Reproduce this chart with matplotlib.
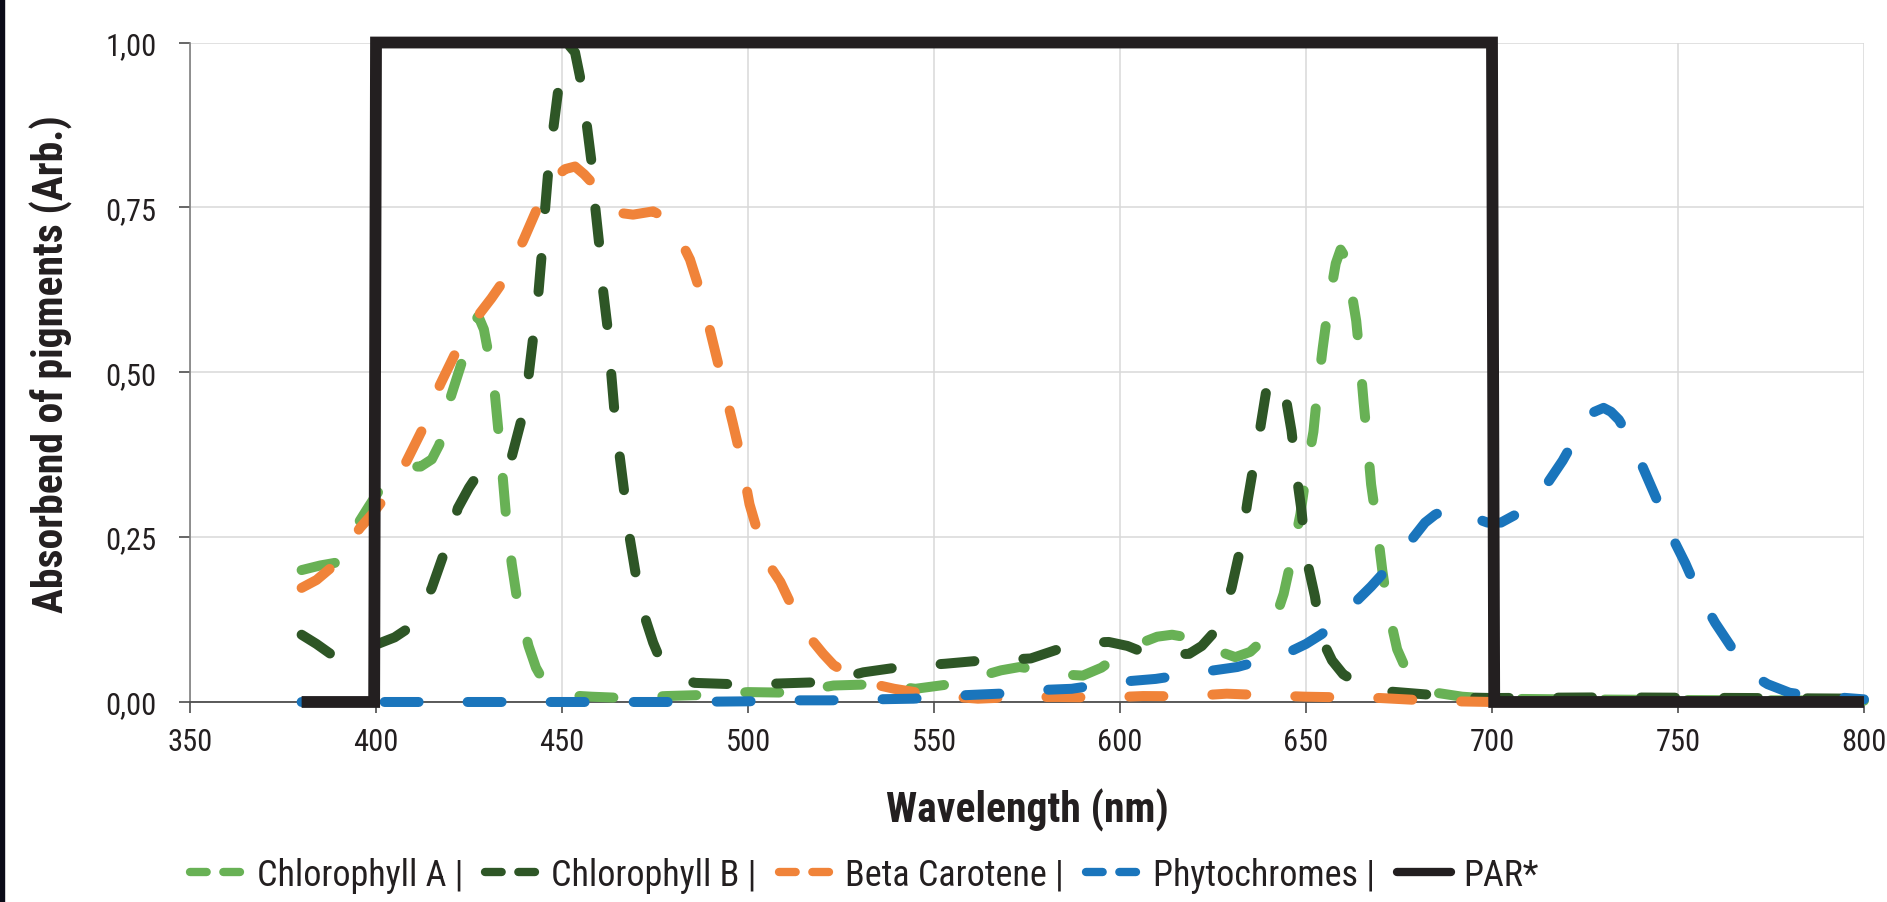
import matplotlib
matplotlib.use("Agg")
import matplotlib.pyplot as plt
from matplotlib.lines import Line2D
from matplotlib.patches import Rectangle
from matplotlib.ticker import FuncFormatter, MultipleLocator

plt.rcParams['font.family'] = ['Roboto Condensed', 'DejaVu Sans']

# --- data (wavelength in nm, absorbance in arb. units) ---
chla_nm = [380, 385, 389, 392, 395, 398, 401, 405, 409, 412, 415, 417, 420, 423, 426,
           427.5, 429, 430.5, 432, 433, 434, 435, 436.5, 438, 441, 443, 445, 448, 452,
           458, 467, 478, 490, 500, 512, 523, 535, 545, 557, 563, 568, 573, 578, 584,
           590, 595, 599, 605, 610, 614, 618, 621, 626, 631, 635, 639, 642, 644, 646,
           648.5, 650, 652, 653, 654.5, 656, 658, 659.3, 660.5, 662, 663.5, 664.5, 665.5,
           666.5, 667.5, 669, 670.5, 672, 674.5, 677, 680, 685, 692, 700, 720, 750, 800]
chla_val = [0.200, 0.207, 0.211, 0.235, 0.269, 0.296, 0.322, 0.345, 0.357, 0.357, 0.368,
            0.390, 0.461, 0.514, 0.572, 0.585, 0.565, 0.520, 0.464, 0.405, 0.345, 0.279,
            0.209, 0.153, 0.085, 0.052, 0.032, 0.017, 0.010, 0.008, 0.006, 0.009, 0.011,
            0.015, 0.014, 0.025, 0.027, 0.020, 0.029, 0.040, 0.048, 0.053, 0.049, 0.042,
            0.040, 0.052, 0.068, 0.088, 0.099, 0.102, 0.098, 0.091, 0.078, 0.068, 0.076,
            0.097, 0.130, 0.164, 0.215, 0.285, 0.345, 0.410, 0.467, 0.537, 0.600, 0.665,
            0.686, 0.675, 0.630, 0.578, 0.520, 0.454, 0.395, 0.330, 0.270, 0.200, 0.143,
            0.080, 0.048, 0.027, 0.014, 0.008, 0.005, 0.004, 0.003, 0.002]

chlb_nm = [380, 384, 388, 392, 396, 400, 405, 409, 412, 415, 418.5, 420.5, 422, 425, 427,
           430, 433, 436.4, 439, 441, 442.5, 443.6, 444.5, 445.4, 446.3, 447.7, 449, 450.5,
           452, 453.5, 454.8, 456.6, 457.9, 458.9, 460, 461, 462.3, 463.2, 464.1, 465.5,
           466.8, 468.2, 469.9, 472.6, 474.5, 476.2, 480, 485.6, 496, 508, 519, 525, 531,
           541, 553, 563, 569, 576, 585, 591, 597, 602, 606, 612, 618.6, 622, 626, 628,
           630, 632.4, 634.3, 635.9, 637, 638, 639.6, 641.5, 643, 644.4, 646.1, 647.5,
           648.8, 650, 652.4, 654.1, 657, 660, 665, 670, 681, 692, 700, 730, 770, 800]
chlb_val = [0.102, 0.088, 0.072, 0.066, 0.072, 0.087, 0.098, 0.113, 0.138, 0.173, 0.229,
            0.265, 0.294, 0.325, 0.342, 0.350, 0.352, 0.370, 0.426, 0.494, 0.565, 0.616,
            0.676, 0.744, 0.805, 0.871, 0.929, 0.975, 0.995, 0.985, 0.949, 0.878, 0.820,
            0.752, 0.694, 0.626, 0.565, 0.500, 0.440, 0.373, 0.315, 0.249, 0.191, 0.123,
            0.090, 0.067, 0.042, 0.029, 0.027, 0.028, 0.030, 0.036, 0.045, 0.053, 0.058,
            0.063, 0.064, 0.066, 0.083, 0.090, 0.091, 0.085, 0.076, 0.072, 0.073, 0.085,
            0.110, 0.140, 0.173, 0.234, 0.305, 0.358, 0.390, 0.426, 0.482, 0.492, 0.480,
            0.467, 0.411, 0.343, 0.290, 0.221, 0.160, 0.097, 0.063, 0.042, 0.025, 0.017,
            0.012, 0.007, 0.006, 0.007, 0.006, 0.005]

beta_nm = [380, 384, 388, 392, 395.7, 399, 402, 405, 408.2, 412.7, 417.2, 421.6, 425, 428,
           431, 434.2, 437, 439.6, 443.6, 447, 450.8, 453.5, 456, 459.3, 462, 465, 469.1,
           474.5, 478.5, 481, 484.4, 487.5, 490.5, 492.8, 495.9, 498.1, 500.4, 503, 506,
           508.7, 513, 517, 520.2, 523, 528.3, 533, 539.3, 550.3, 561.8, 572.8, 583.7,
           595.2, 606.2, 617.7, 628.7, 640.2, 650, 660, 670, 680, 690, 700, 800]
beta_val = [0.173, 0.185, 0.204, 0.235, 0.264, 0.285, 0.307, 0.335, 0.365, 0.416, 0.481,
            0.532, 0.565, 0.590, 0.612, 0.638, 0.670, 0.700, 0.752, 0.790, 0.808, 0.812,
            0.800, 0.780, 0.755, 0.742, 0.739, 0.744, 0.732, 0.710, 0.671, 0.616, 0.547,
            0.494, 0.423, 0.370, 0.300, 0.250, 0.205, 0.182, 0.131, 0.095, 0.073, 0.056,
            0.038, 0.028, 0.020, 0.010, 0.005, 0.0076, 0.0076, 0.0066, 0.009, 0.0086,
            0.0126, 0.010, 0.008, 0.007, 0.006, 0.003, 0.001, 0.0, 0.0]

phyto_nm = [380, 400, 450, 480, 500, 511, 522, 534, 544.5, 557, 567.5, 576.6, 587, 599,
            609.6, 621.5, 631.5, 636, 645.4, 650, 654.1, 658, 661.2, 664.1, 667.5, 671.2,
            675, 678.8, 682, 684.7, 688.2, 692.9, 698.8, 702.4, 706, 709.4, 712, 715.3,
            719, 722.4, 725, 727.5, 730, 732, 734.1, 737, 740, 744.7, 748.8, 752, 754.1,
            757, 760, 765.9, 770.6, 774.1, 780, 783, 788, 794, 800]
phyto_val = [0.0, 0.0, 0.0, 0.0, 0.001, 0.0025, 0.0025, 0.004, 0.005, 0.010, 0.0126,
             0.0177, 0.020, 0.030, 0.035, 0.045, 0.053, 0.060, 0.0755, 0.088, 0.1025,
             0.120, 0.138, 0.156, 0.175, 0.198, 0.222, 0.249, 0.272, 0.284, 0.294, 0.284,
             0.272, 0.272, 0.283, 0.297, 0.313, 0.335, 0.366, 0.400, 0.425, 0.440, 0.446,
             0.440, 0.428, 0.400, 0.363, 0.302, 0.246, 0.210, 0.183, 0.150, 0.120, 0.070,
             0.039, 0.027, 0.014, 0.0116, 0.009, 0.0066, 0.004]

par_nm = [380, 399.5, 400, 700, 700.6, 800]
par_val = [0, 0, 1, 1, 0, 0]

labels = ["Chlorophyll A |", "Chlorophyll B |", "Beta Carotene |", "Phytochromes |", "PAR*"]
colors = ["#68b155", "#2e5626", "#f08339", "#1a75bc", "#231f20"]

TEXT = "#231f20"

fig = plt.figure(figsize=(18.87, 9.03), dpi=100)
ax = fig.add_axes([0.1007, 0.2215, 0.8871, 0.7303])

dash = (0, (3.4, 4.9))
series = [(chla_nm, chla_val), (chlb_nm, chlb_val), (beta_nm, beta_val), (phyto_nm, phyto_val)]
for i, (xs, ys) in enumerate(series):
    ax.plot(xs, ys, color=colors[i], lw=7.2, linestyle=dash,
            dash_capstyle='round', solid_capstyle='round', zorder=3 + i, clip_on=False)

ax.plot(par_nm, par_val, color=colors[4], lw=8.5, solid_joinstyle='miter',
        solid_capstyle='butt', zorder=8, clip_on=False)

ax.set_xlim(350, 800)
ax.set_ylim(0, 1)
ax.xaxis.set_major_locator(MultipleLocator(50))
ax.yaxis.set_major_locator(MultipleLocator(0.25))
ax.yaxis.set_major_formatter(FuncFormatter(lambda v, p: f"{v:.2f}".replace(".", ",")))

ax.grid(True, color="#d9d9d9", lw=1.1, zorder=0)
ax.set_axisbelow(True)
for s in ["top", "right"]:
    ax.spines[s].set_visible(False)
ax.spines["left"].set_color("#7f7f7f")
ax.spines["left"].set_linewidth(1.2)
ax.spines["bottom"].set_color("#4d4d4d")
ax.spines["bottom"].set_linewidth(1.3)

ax.tick_params(axis="x", direction="out", length=8, width=1.2, color="#4d4d4d",
               pad=10, labelsize=22, labelcolor=TEXT)
ax.tick_params(axis="y", direction="out", length=8, width=1.2, color="#4d4d4d",
               pad=16, labelsize=22, labelcolor=TEXT)

ax.set_xlabel("Wavelength (nm)", fontsize=30, fontweight="bold", color=TEXT)
ax.xaxis.set_label_coords(0.5, -0.13)
ax.set_ylabel("Absorbend of pigments (Arb.)", fontsize=30, fontweight="bold", color=TEXT)
ax.yaxis.set_label_coords(-0.07, 0.514)

# legend handles
handles = []
for i in range(4):
    handles.append(Line2D([0], [0], color=colors[i], lw=6, linestyle=(0, (2.0, 2.0)),
                          dash_capstyle='round'))
handles.append(Line2D([0], [0], color=colors[4], lw=6, solid_capstyle='round'))
fig.legend(handles, labels, loc="center", bbox_to_anchor=(0.458, 0.03), ncol=5,
           frameon=False, fontsize=26, handlelength=1.5, handletextpad=0.35,
           columnspacing=0.6, labelcolor=TEXT)

# thin dark strip on the left edge of the original image
fig.patches.append(Rectangle((0, 0), 4 / 1887, 1, transform=fig.transFigure,
                             color="#0b0b18", zorder=10))

fig.savefig("out.png", dpi=100)
